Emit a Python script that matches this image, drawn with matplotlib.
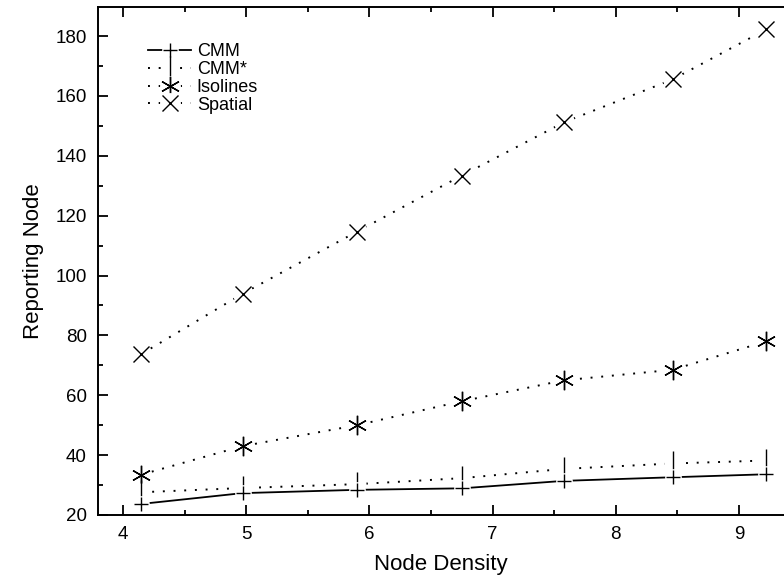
import matplotlib
matplotlib.use('Agg')
import matplotlib.pyplot as plt
from matplotlib.ticker import MultipleLocator
from matplotlib.legend_handler import HandlerTuple

plt.rcParams['font.family'] = ['Liberation Sans', 'DejaVu Sans']

# data
density = [4.15, 4.97, 5.90, 6.75, 7.58, 8.46, 9.22]
cmm = [23.7, 27.3, 28.4, 28.9, 31.4, 32.6, 33.6]
cmm_star = [27.6, 29.0, 30.3, 32.3, 35.4, 37.2, 38.2]
isolines = [33.5, 43.0, 50.0, 58.0, 65.0, 68.5, 78.0]
spatial = [73.8, 93.9, 114.7, 133.4, 151.2, 165.5, 182.2]

labels = ['CMM', 'CMM*', 'Isolines', 'Spatial']
series = [cmm, cmm_star, isolines, spatial]

dotted = (0, (1, 4.5))
styles = [
    dict(ls='-', lw=1.3, marker='+', ms=10, gap=12),
    dict(ls=dotted, lw=1.4, marker='|', ms=17, gap=13),
    dict(ls=dotted, lw=1.4, marker=(6, 2, 0), ms=14, gap=15),
    dict(ls=dotted, lw=1.4, marker='x', ms=11, gap=15),
]

fig = plt.figure(figsize=(7.84, 5.87), dpi=100)
ax = fig.add_axes([0.125, 0.1227, 0.875, 0.8653])

handles = [None] * len(series)
# draw from the top series down so lower lines sit above the upper gaps
for i in reversed(range(len(series))):
    y, st = series[i], styles[i]
    z = 2 + (len(series) - i)
    ln, = ax.plot(density, y, color='black', linestyle=st['ls'], lw=st['lw'], zorder=z)
    # white blobs under the markers give the Origin-style gap in the line
    gp, = ax.plot(density, y, linestyle='none', marker='o', ms=st['gap'],
                  mfc='white', mec='none', zorder=z + 0.1)
    mk, = ax.plot(density, y, linestyle='none', marker=st['marker'], ms=st['ms'],
                  mew=1.0, color='black', zorder=z + 0.2)
    handles[i] = (ln, gp, mk)

ax.set_xlim(3.797, 9.365)
ax.set_ylim(20, 189.7)
ax.xaxis.set_major_locator(MultipleLocator(1))
ax.xaxis.set_minor_locator(MultipleLocator(0.5))
ax.yaxis.set_major_locator(MultipleLocator(20))
ax.yaxis.set_minor_locator(MultipleLocator(10))

ax.spines['right'].set_visible(False)
for s in ['left', 'bottom', 'top']:
    ax.spines[s].set_linewidth(1.4)
    ax.spines[s].set_zorder(10)
ax.tick_params(which='both', direction='in', top=True, right=False, width=1.3,
               labelsize=13.5, pad=8)
ax.tick_params(which='major', length=7)
ax.tick_params(which='minor', length=3.5)

ax.set_xlabel('Node Density', fontsize=16, labelpad=8)
ax.set_ylabel('Reporting Node', fontsize=16, labelpad=8)

leg = ax.legend(handles, labels, handler_map={tuple: HandlerTuple(ndivide=1, pad=0)},
                loc='upper left', bbox_to_anchor=(0.073, 0.929), frameon=False,
                fontsize=13, handlelength=2.4, handletextpad=0.3,
                labelspacing=0.05, borderaxespad=0, borderpad=0)

fig.savefig('out.png', dpi=100)
